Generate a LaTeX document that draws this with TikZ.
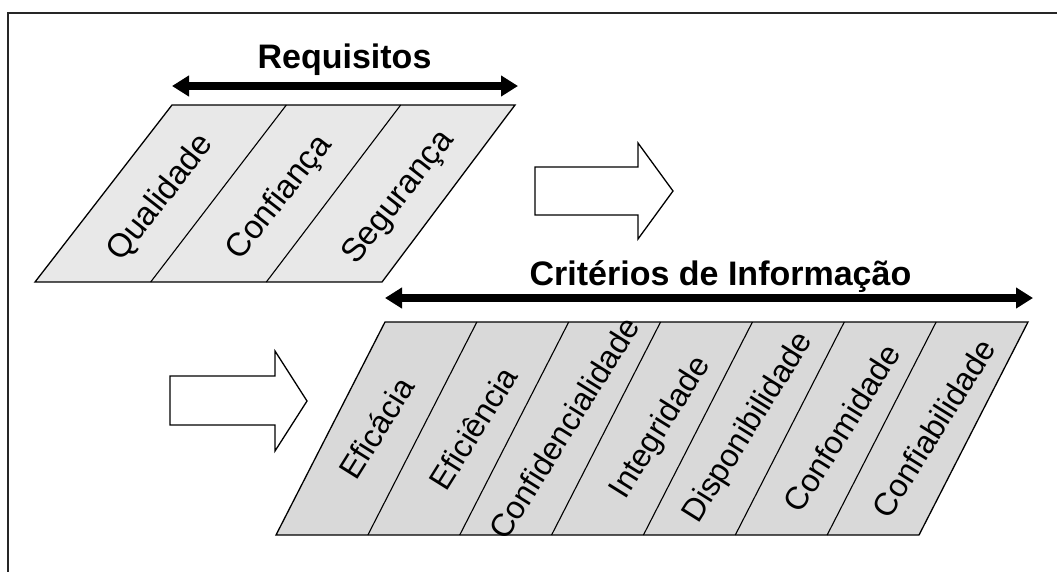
\documentclass[tikz,border=0pt]{standalone}
\usepackage{fontspec}
\setmainfont{Liberation Sans}
\usetikzlibrary{arrows.meta,calc}
\begin{document}
\begin{tikzpicture}[x=1pt,y=-1pt,
  frameline/.style={line width=1.6pt,draw=black!85},
  cellfillA/.style={fill=black!9},
  cellfillB/.style={fill=black!15},
  outline/.style={line width=1.3pt,draw=black},
  divider/.style={line width=1.1pt,draw=black},
  dblarrow/.style={line width=7.5pt,{Triangle[length=17pt,width=20pt]}-{Triangle[length=17pt,width=20pt]}},
  blockarrow/.style={line width=1.3pt,draw=black,fill=white,line join=miter},
  titletext/.style={font=\fontsize{34}{37}\selectfont\bfseries,anchor=base,inner sep=0pt},
  celltext/.style={font=\fontsize{33}{36}\selectfont,inner sep=0pt}
]
\useasboundingbox (0,0) rectangle (1057,571);
% frame (top and left sides visible)
\draw[frameline] (8,575) -- (8,13) -- (1060,13);

% ---------- Requisitos ----------
\node[titletext] (req) at (344.5,68) {Requisitos};
\coordinate (reqL) at (172,86);
\coordinate (reqR) at (518,86);
\draw[dblarrow] (reqL) -- (reqR);

\path[cellfillA] (172,105) -- (515,105) -- (382,282) -- (35,282) -- cycle;
\foreach \i in {1,2}{
  \pgfmathsetmacro{\tx}{172+\i*343/3}
  \pgfmathsetmacro{\bx}{35+\i*347/3}
  \draw[divider] (\tx,105) -- (\bx,282);
}
\draw[outline] (172,105) -- (515,105) -- (382,282) -- (35,282) -- cycle;
\foreach \i/\t/\dx in {0/Qualidade/0,1/Confiança/4,2/Segurança/8}{
  \pgfmathsetmacro{\cx}{(172+\i*343/3+172+(\i+1)*343/3+35+\i*347/3+35+(\i+1)*347/3)/4+\dx}
  \node[celltext,rotate=52] (top\i) at (\cx,198) {\t};
}

% block arrow right
\draw[blockarrow] (535,167) -- (638,167) -- (638,143) -- (673,191) -- (638,239) -- (638,215) -- (535,215) -- cycle;

% ---------- Critérios de Informação ----------
\node[titletext] (crit) at (720.5,285) {Critérios de Informação};
\coordinate (critL) at (385,298);
\coordinate (critR) at (1033,298);
\draw[dblarrow] (critL) -- (critR);

\path[cellfillB] (385,322) -- (1028,322) -- (919,535) -- (276,535) -- cycle;
\foreach \i in {1,...,6}{
  \pgfmathsetmacro{\tx}{385+\i*643/7}
  \pgfmathsetmacro{\bx}{276+\i*643/7}
  \draw[divider] (\tx,322) -- (\bx,535);
}
\draw[outline] (385,322) -- (1028,322) -- (919,535) -- (276,535) -- cycle;
\foreach \i/\t/\dx in {0/Eficácia/0,1/Eficiência/5,2/Confidencialidade/4,3/Integridade/9,4/Disponibilidade/5,5/Confomidade/6,6/Confiabilidade/6}{
  \pgfmathsetmacro{\cx}{(385+276)/2+(\i+0.5)*643/7+\dx}
  \node[celltext,rotate=58,font=\fontsize{32}{35}\selectfont] (low\i) at (\cx,428) {\t};
}

% block arrow left
\draw[blockarrow] (170,376) -- (275,376) -- (275,351) -- (307,401) -- (275,451) -- (275,425) -- (170,425) -- cycle;
\end{tikzpicture}
\end{document}
